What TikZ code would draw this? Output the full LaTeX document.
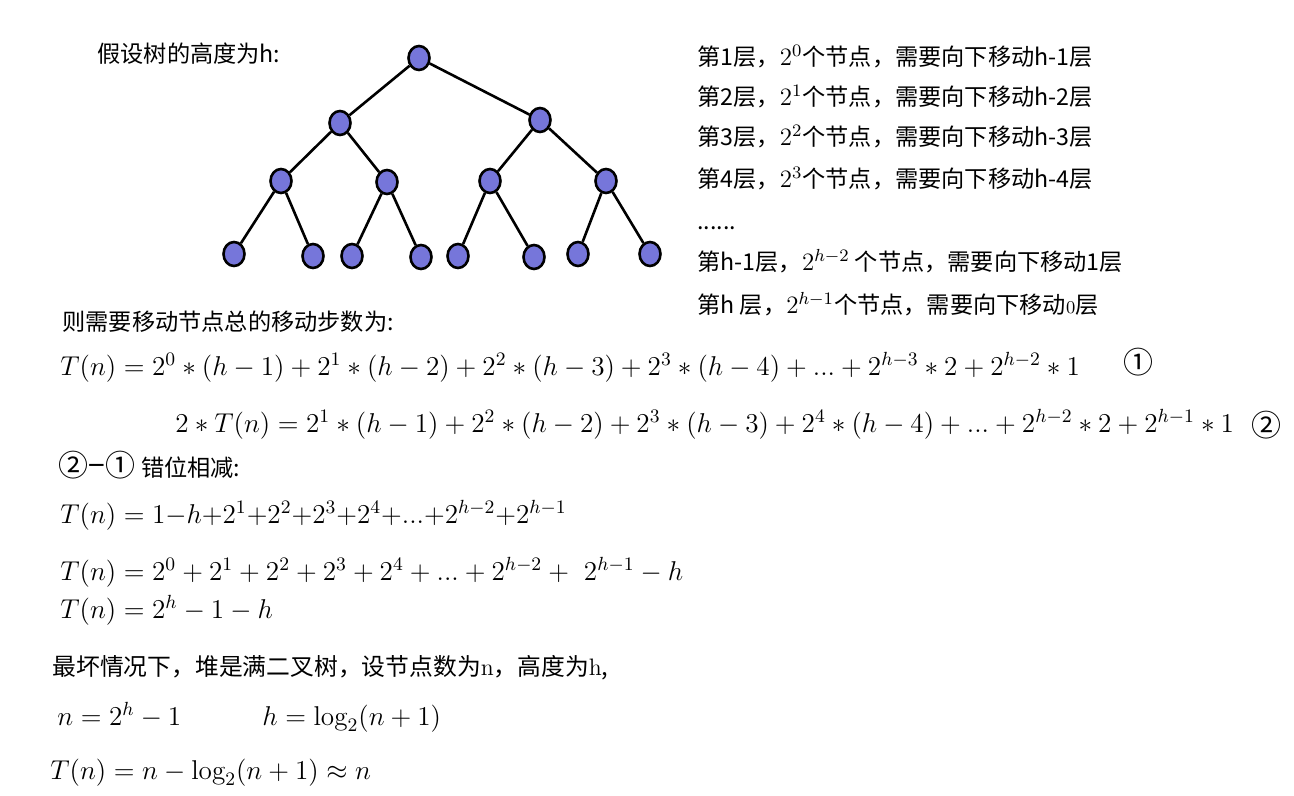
\RequirePackage{fix-cm}
\documentclass[tikz,border=0pt]{standalone}
\usepackage{fontspec}
\newfontfamily\zh{Noto Sans CJK SC}
\usetikzlibrary{shapes.geometric}
\definecolor{heapblue}{RGB}{118,118,218}
\newcommand{\powtwo}[1]{{\fontsize{12.5}{14}\selectfont$2^{#1}$}}

\begin{document}
\begin{tikzpicture}[x=0.5pt, y=-0.5pt,
  heap/.style={ellipse, draw=black, line width=1.3pt, fill=heapblue, minimum width=10.5pt, minimum height=12pt, inner sep=0pt},
  txt/.style={anchor=base west, inner sep=0pt, font=\zh\fontsize{11.6}{13}\selectfont},
  eq/.style={anchor=base west, inner sep=0pt, font=\fontsize{13.6}{15}\selectfont},
  circnum/.style={inner sep=0pt, font=\zh\fontsize{15}{16}\selectfont}]

\fill[white] (0,0) rectangle (1294,796);
\useasboundingbox (0,0) rectangle (1294,796);

% heap as a full binary tree
\node[txt] (title) at (97,63) {假设树的高度为h:};

\node[heap] (r) at (419,58) {};
\node[heap] (a1) at (340,123) {};
\node[heap] (a2) at (540,120) {};
\node[heap] (b1) at (281,181) {};
\node[heap] (b2) at (387,182) {};
\node[heap] (b3) at (490,181) {};
\node[heap] (b4) at (606,181) {};
\node[heap] (c1) at (234,254) {};
\node[heap] (c2) at (313,256) {};
\node[heap] (c3) at (352,256) {};
\node[heap] (c4) at (421,257) {};
\node[heap] (c5) at (458,256) {};
\node[heap] (c6) at (534,257) {};
\node[heap] (c7) at (578,254) {};
\node[heap] (c8) at (650,254) {};

\draw[line width=1.3pt] (r) -- (a1); \draw[line width=1.3pt] (r) -- (a2);
\draw[line width=1.3pt] (a1) -- (b1); \draw[line width=1.3pt] (a1) -- (b2);
\draw[line width=1.3pt] (a2) -- (b3); \draw[line width=1.3pt] (a2) -- (b4);
\draw[line width=1.3pt] (b1) -- (c1); \draw[line width=1.3pt] (b1) -- (c2);
\draw[line width=1.3pt] (b2) -- (c3); \draw[line width=1.3pt] (b2) -- (c4);
\draw[line width=1.3pt] (b3) -- (c5); \draw[line width=1.3pt] (b3) -- (c6);
\draw[line width=1.3pt] (b4) -- (c7); \draw[line width=1.3pt] (b4) -- (c8);

% moves per level
\node[txt] (l1) at (697,66) {第1层，\powtwo{0}个节点，需要向下移动h-1层};
\node[txt] (l2) at (697,106) {第2层，\powtwo{1}个节点，需要向下移动h-2层};
\node[txt] (l3) at (697,146) {第3层，\powtwo{2}个节点，需要向下移动h-3层};
\node[txt] (l4) at (697,188) {第4层，\powtwo{3}个节点，需要向下移动h-4层};
\node[txt] (ldots) at (697,230) {......};
\node[txt] (lh1) at (697,271) {第h-1层，\powtwo{h-2} 个节点，需要向下移动1层};
\node[txt] (lh) at (697,314) {第h 层，\powtwo{h-1}个节点，需要向下移动{\fontsize{9}{10}\selectfont$0$}层};

% total number of moves
\node[txt] (sum) at (62,330) {则需要移动节点总的移动步数为:};
\node[eq] (eq1) at (60,375) {$T(n)=2^0*(h-1)+2^1*(h-2)+2^2*(h-3)+2^3*(h-4)+...+2^{h-3}*2+2^{h-2}*1$};
\node[circnum] (m1) at (1138,362) {①};
\node[eq] (eq2) at (175,432) {$2*T(n)=2^1*(h-1)+2^2*(h-2)+2^3*(h-3)+2^4*(h-4)+...+2^{h-2}*2+2^{h-1}*1$};
\node[circnum] (m2) at (1266,425) {②};

\node[txt] (sub) at (58,476) {{\fontsize{15}{16}\selectfont ②−①}\hspace{3pt}错位相减:};
\node[eq] (eq3) at (60,523) {$T(n)=1{-}h{+}2^1{+}2^2{+}2^3{+}2^4{+}...{+}2^{h-2}{+}2^{h-1}$};
\node[eq] (eq4) at (60,580) {$T(n)=2^0+2^1+2^2+2^3+2^4+...+2^{h-2}+\ 2^{h-1}-h$};
\node[eq] (eq5) at (60,618) {$T(n)=2^h-1-h$};

% worst case
\node[txt, font=\zh\fontsize{11.9}{13}\selectfont] (worst) at (52,675) {最坏情况下，堆是满二叉树，设节点数为{\rmfamily n}，高度为{\rmfamily h},};
\node[eq] (nh) at (57,725) {$n=2^h-1$};
\node[eq] (hn) at (262,725) {$h=\log_2(n+1)$};
\node[eq] (res) at (50,779) {$T(n)=n-\log_2(n+1)\approx n$};

\end{tikzpicture}
\end{document}
